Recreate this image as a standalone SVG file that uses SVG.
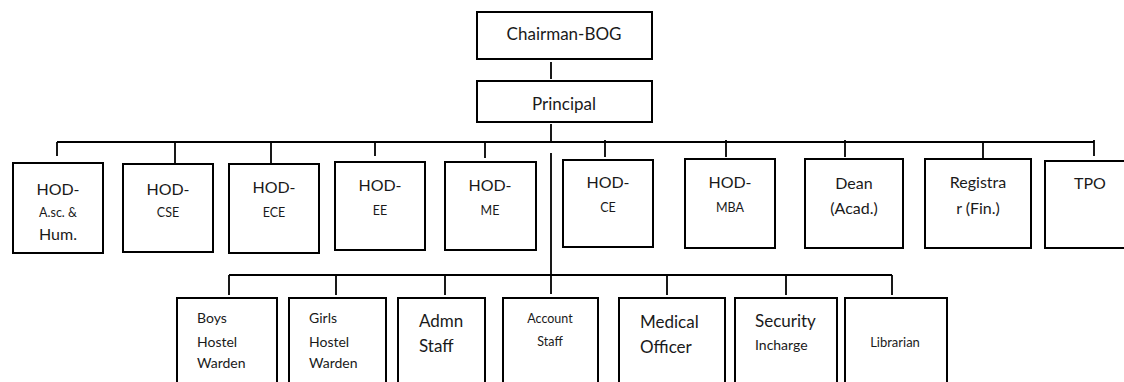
<svg xmlns="http://www.w3.org/2000/svg" width="1124" height="382" viewBox="0 0 1124 382">
<style>
.b{fill:#fff;stroke:#000;stroke-width:2}
.c{fill:none;stroke:#000;stroke-width:1.8}
text{font-family:Lato,"Liberation Sans",sans-serif;fill:#1a1a1a}
.m{text-anchor:middle}
.L{font-size:16px}
.S{font-size:12.5px}
.M{font-size:14px}
</style>
<rect width="1124" height="382" fill="#fff"/>
<g id="connectors">
<path class="c" d="M551 62V79M551 124V142M57 142H1094M551 153V294"/>
<path class="c" d="M57 142V156M175 142V164M271 142V163M375 142V156M485 142V158M605 140V157M726 140V157M845 140V157M983 142V160M1094 140V156"/>
<path class="c" d="M229 275H892M229 275V295M336 275V295M445 275V295M667 275V295M786 275V295M892 275V295"/>
</g>
<g id="chairman"><rect class="b" x="477" y="12" width="175" height="47"/><text class="m L" x="564" y="40" style="font-size:17px">Chairman-BOG</text></g>
<g id="principal"><rect class="b" x="477" y="81" width="175" height="41"/><text class="m L" x="564" y="110" style="font-size:17px">Principal</text></g>
<g id="hod-asc"><rect class="b" x="13" y="163" width="90" height="90"/><text class="m L" x="58" y="195">HOD-</text><text class="m S" x="58" y="217">A.sc. &amp;</text><text class="m L" x="58" y="240">Hum.</text></g>
<g id="hod-cse"><rect class="b" x="123" y="164" width="90" height="88"/><text class="m L" x="168" y="195">HOD-</text><text class="m S" x="168" y="217">CSE</text></g>
<g id="hod-ece"><rect class="b" x="229" y="164" width="90" height="89"/><text class="m L" x="274" y="193">HOD-</text><text class="m S" x="274" y="217">ECE</text></g>
<g id="hod-ee"><rect class="b" x="335" y="162" width="90" height="88"/><text class="m L" x="380" y="191">HOD-</text><text class="m S" x="380" y="215">EE</text></g>
<g id="hod-me"><rect class="b" x="445" y="162" width="91" height="88"/><text class="m L" x="490" y="191">HOD-</text><text class="m S" x="490" y="215">ME</text></g>
<g id="hod-ce"><rect class="b" x="563" y="160" width="90" height="87"/><text class="m L" x="608" y="188">HOD-</text><text class="m S" x="608" y="212">CE</text></g>
<g id="hod-mba"><rect class="b" x="685" y="159" width="90" height="89"/><text class="m L" x="730" y="188">HOD-</text><text class="m S" x="730" y="212">MBA</text></g>
<g id="dean"><rect class="b" x="805" y="159" width="98" height="89"/><text class="m L" x="854" y="189">Dean</text><text class="m L" x="854" y="214">(Acad.)</text></g>
<g id="registrar"><rect class="b" x="925" y="159" width="106" height="89"/><text class="m L" x="978" y="188">Registra</text><text class="m L" x="978" y="214">r (Fin.)</text></g>
<g id="tpo"><rect class="b" x="1045" y="161" width="92" height="87"/><text class="m L" x="1090" y="189">TPO</text></g>
<g id="boys"><rect class="b" x="177" y="298" width="100" height="95"/><text class="M" x="197" y="323">Boys</text><text class="M" x="197" y="347">Hostel</text><text class="M" x="197" y="368">Warden</text></g>
<g id="girls"><rect class="b" x="289" y="298" width="97" height="95"/><text class="M" x="309" y="323">Girls</text><text class="M" x="309" y="347">Hostel</text><text class="M" x="309" y="368">Warden</text></g>
<g id="admn"><rect class="b" x="398" y="298" width="87" height="95"/><text class="L" x="419" y="327" style="font-size:17px">Admn</text><text class="L" x="419" y="352" style="font-size:17px">Staff</text></g>
<g id="account"><rect class="b" x="503" y="298" width="95" height="95"/><text class="m S" x="550" y="323">Account</text><text class="m S" x="550" y="346">Staff</text></g>
<g id="medical"><rect class="b" x="619" y="298" width="106" height="95"/><text class="L" x="640" y="328" style="font-size:17px">Medical</text><text class="L" x="640" y="353" style="font-size:17px">Officer</text></g>
<g id="security"><rect class="b" x="735" y="298" width="102" height="95"/><text class="L" x="755" y="327" style="font-size:17px">Security</text><text class="M" x="755" y="350">Incharge</text></g>
<g id="librarian"><rect class="b" x="845" y="298" width="102" height="95"/><text class="m S" x="895" y="347" style="font-size:13px">Librarian</text></g>
</svg>
